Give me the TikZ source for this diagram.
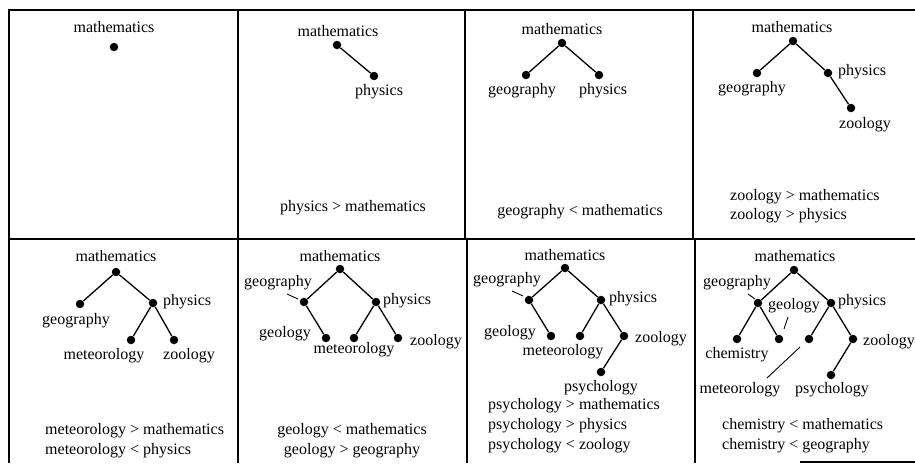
\documentclass[tikz,border=0pt]{standalone}
\usepackage{fontspec}
\setmainfont{Liberation Serif}
\begin{document}
\begin{tikzpicture}[x=1pt,y=-1pt,
  dot/.style={circle,fill=black,inner sep=0pt,minimum size=8.5pt},
  lbl/.style={inner sep=0pt,text height=11pt,text depth=3.5pt,font=\fontsize{16}{20}\selectfont},
  lblw/.style={lbl,anchor=west},
  edge/.style={line width=1.3pt},
  lead/.style={line width=0.9pt},
  frame/.style={line width=1.5pt}]
\useasboundingbox (0,0) rectangle (915,463);
% frame
\coordinate (tl) at (9,10); \coordinate (tr) at (915,10);
\coordinate (bl) at (9,463);
\coordinate (ml) at (9,239); \coordinate (mr) at (915,239);
\draw[frame] (tr) -- (tl) -- (bl);
\draw[frame] (ml) -- (mr);
\coordinate (v1t) at (238,10); \coordinate (v1b) at (238,463);
\coordinate (v2t) at (465,10); \coordinate (v2m) at (465,239);
\coordinate (v2n) at (467,239); \coordinate (v2b) at (467,463);
\coordinate (v3t) at (693,10); \coordinate (v3m) at (693,239);
\coordinate (v3n) at (695,239); \coordinate (v3b) at (695,463);
\draw[frame] (v1t) -- (v1b);
\draw[frame] (v2t) -- (v2m); \draw[frame] (v2n) -- (v2b);
\draw[frame] (v3t) -- (v3m); \draw[frame] (v3n) -- (v3b);
\coordinate (bs1) at (800,462); \coordinate (bs2) at (915,462);
\draw[frame] (bs1) -- (bs2);

% ---------- panel 1
\node[lbl] (a-mt) at (114,29) {mathematics};
\node[dot] (a-m) at (114,47) {};

% ---------- panel 2
\node[lbl] (b-mt) at (338,33) {mathematics};
\node[dot] (b-m) at (337,45) {};
\node[dot] (b-p) at (374,76) {};
\node[lbl] (b-pt) at (379,92) {physics};
\draw[edge] (b-m) -- (b-p);
\node[lbl] (b-r1) at (353,208) {physics > mathematics};

% ---------- panel 3
\node[lbl] (c-mt) at (562,31) {mathematics};
\node[dot] (c-m) at (562,43) {};
\node[dot] (c-g) at (526,75) {};
\node[dot] (c-p) at (599,75) {};
\node[lbl] (c-gt) at (522,91) {geography};
\node[lbl] (c-pt) at (603,91) {physics};
\draw[edge] (c-g) -- (c-m) -- (c-p);
\node[lbl] (c-r1) at (580,212) {geography < mathematics};

% ---------- panel 4
\node[lbl] (d-mt) at (792,29) {mathematics};
\node[dot] (d-m) at (793,41) {};
\node[dot] (d-g) at (757,73) {};
\node[dot] (d-p) at (828,73) {};
\node[dot] (d-z) at (851,108) {};
\node[lbl] (d-gt) at (752,89) {geography};
\node[lblw] (d-pt) at (838,72) {physics};
\node[lbl] (d-zt) at (865,125) {zoology};
\draw[edge] (d-g) -- (d-m) -- (d-p) -- (d-z);
\node[lblw] (d-r1) at (730,197) {zoology > mathematics};
\node[lblw] (d-r2) at (730,216) {zoology > physics};

% ---------- panel 5
\node[lbl] (e-mt) at (116,258) {mathematics};
\node[dot] (e-m) at (116,272) {};
\node[dot] (e-g) at (80,304) {};
\node[dot] (e-p) at (153,303) {};
\node[dot] (e-me) at (131,340) {};
\node[dot] (e-z) at (174,340) {};
\node[lbl] (e-gt) at (76,321) {geography};
\node[lblw] (e-pt) at (163,302) {physics};
\node[lbl] (e-met) at (104,356) {meteorology};
\node[lbl] (e-zt) at (189,356) {zoology};
\draw[edge] (e-g) -- (e-m) -- (e-p);
\draw[edge] (e-me) -- (e-p) -- (e-z);
\node[lblw] (e-r1) at (45,431) {meteorology > mathematics};
\node[lblw] (e-r2) at (45,451) {meteorology < physics};

% ---------- panel 6
\node[lbl] (f-mt) at (340,258) {mathematics};
\node[dot] (f-m) at (340,269) {};
\node[dot] (f-g) at (304,302) {};
\node[dot] (f-p) at (376,302) {};
\node[dot] (f-ge) at (326,338) {};
\node[dot] (f-me) at (354,338) {};
\node[dot] (f-z) at (398,338) {};
\node[lbl] (f-gt) at (278,283) {geography};
\coordinate (f-l1) at (287,294); \coordinate (f-l2) at (298,299);
\draw[lead] (f-l1) -- (f-l2);
\node[lblw] (f-pt) at (383,301) {physics};
\node[lbl] (f-get) at (285,334) {geology};
\node[lbl] (f-met) at (354,350) {meteorology};
\node[lblw] (f-zt) at (410,342) {zoology};
\draw[edge] (f-ge) -- (f-g) -- (f-m) -- (f-p) -- (f-z);
\draw[edge] (f-me) -- (f-p);
\node[lbl] (f-r1) at (352,431) {geology < mathematics};
\node[lbl] (f-r2) at (352,451) {geology > geography};

% ---------- panel 7
\node[lbl] (g-mt) at (565,257) {mathematics};
\node[dot] (g-m) at (565,268) {};
\node[dot] (g-g) at (529,300) {};
\node[dot] (g-p) at (601,300) {};
\node[dot] (g-ge) at (551,336) {};
\node[dot] (g-me) at (580,336) {};
\node[dot] (g-z) at (624,336) {};
\node[dot] (g-ps) at (601,372) {};
\node[lbl] (g-gt) at (507,280) {geography};
\coordinate (g-l1) at (512,291); \coordinate (g-l2) at (523,296);
\draw[lead] (g-l1) -- (g-l2);
\node[lblw] (g-pt) at (609,299) {physics};
\node[lbl] (g-get) at (510,333) {geology};
\node[lbl] (g-met) at (563,352) {meteorology};
\node[lblw] (g-zt) at (635,339) {zoology};
\node[lbl] (g-pst) at (601,388) {psychology};
\draw[edge] (g-ge) -- (g-g) -- (g-m) -- (g-p) -- (g-z) -- (g-ps);
\draw[edge] (g-me) -- (g-p);
\node[lblw] (g-r1) at (488,406) {psychology > mathematics};
\node[lblw] (g-r2) at (488,426) {psychology > physics};
\node[lblw] (g-r3) at (488,446) {psychology < zoology};

% ---------- panel 8
\node[lbl] (h-mt) at (795,258) {mathematics};
\node[dot] (h-m) at (794,270) {};
\node[dot] (h-g) at (758,303) {};
\node[dot] (h-p) at (831,303) {};
\node[dot] (h-ch) at (737,339) {};
\node[dot] (h-ge) at (779,339) {};
\node[dot] (h-me) at (809,339) {};
\node[dot] (h-z) at (853,339) {};
\node[dot] (h-ps) at (831,375) {};
\node[lbl] (h-gt) at (737,283) {geography};
\coordinate (h-l1) at (748,294); \coordinate (h-l2) at (755,299);
\draw[lead] (h-l1) -- (h-l2);
\node[lbl] (h-get) at (794,306) {geology};
\coordinate (h-l3) at (788,317); \coordinate (h-l4) at (784,329);
\draw[lead] (h-l3) -- (h-l4);
\node[lblw] (h-pt) at (838,302) {physics};
\node[lblw] (h-zt) at (863,342) {zoology};
\node[lbl] (h-cht) at (737,355) {chemistry};
\coordinate (h-l5) at (800,347); \coordinate (h-l6) at (767,378);
\draw[lead] (h-l5) -- (h-l6);
\node[lbl] (h-met) at (740,390) {meteorology};
\node[lbl] (h-pst) at (832,390) {psychology};
\draw[edge] (h-ch) -- (h-g) -- (h-m) -- (h-p) -- (h-z) -- (h-ps);
\draw[edge] (h-g) -- (h-ge);
\draw[edge] (h-me) -- (h-p);
\node[lblw] (h-r1) at (722,426) {chemistry < mathematics};
\node[lblw] (h-r2) at (722,446) {chemistry < geography};
\end{tikzpicture}
\end{document}
